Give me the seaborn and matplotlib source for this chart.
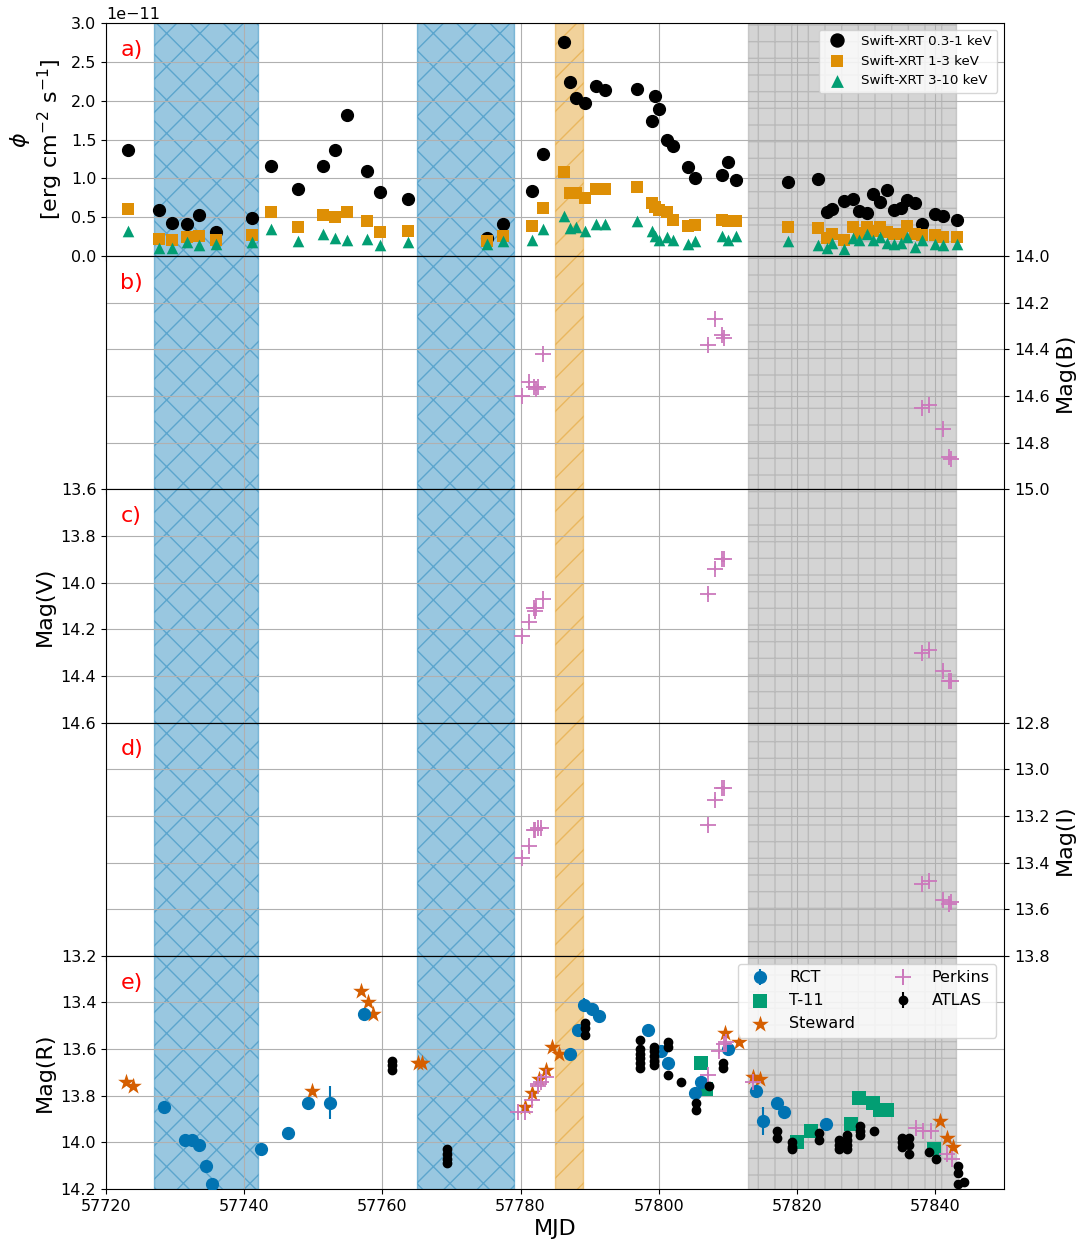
import numpy as np
import pandas as pd
import matplotlib
matplotlib.use('Agg')
import matplotlib.pyplot as plt
import seaborn as sns

# ---------------- data ----------------
xrt_mjd = [57723.2, 57727.6, 57729.5, 57731.7, 57733.5, 57735.9, 57741.2, 57743.9, 57747.8, 57751.4,
           57753.2, 57754.9, 57757.8, 57759.7, 57763.7, 57775.2, 57777.5, 57781.7, 57783.3, 57786.3,
           57787.2, 57788.0, 57789.4, 57791.0, 57792.2, 57796.9, 57799.0, 57799.5, 57800.1, 57801.2,
           57802.1, 57804.2, 57805.3, 57809.2, 57810.1, 57811.2, 57818.7, 57823.1, 57824.4, 57825.1,
           57826.9, 57828.2, 57829.0, 57830.1, 57831.1, 57832.0, 57833.0, 57834.1, 57835.1, 57836.0,
           57837.1, 57838.1, 57840.0, 57841.1, 57843.2]
xrt_soft = [1.37, 0.59, 0.43, 0.42, 0.53, 0.31, 0.49, 1.16, 0.87, 1.16,
            1.36, 1.81, 1.10, 0.83, 0.74, 0.24, 0.41, 0.84, 1.32, 2.76,
            2.24, 2.03, 1.97, 2.19, 2.14, 2.15, 1.74, 2.06, 1.90, 1.50,
            1.42, 1.15, 1.01, 1.04, 1.21, 0.98, 0.95, 0.99, 0.57, 0.61,
            0.71, 0.73, 0.58, 0.56, 0.80, 0.70, 0.85, 0.59, 0.62, 0.72,
            0.69, 0.41, 0.54, 0.52, 0.47]
xrt_mid = [0.61, 0.22, 0.21, 0.25, 0.26, 0.21, 0.27, 0.57, 0.37, 0.53,
           0.51, 0.57, 0.45, 0.31, 0.33, 0.19, 0.26, 0.39, 0.62, 1.08,
           0.81, 0.81, 0.75, 0.86, 0.86, 0.89, 0.68, 0.63, 0.60, 0.57,
           0.47, 0.39, 0.40, 0.47, 0.45, 0.45, 0.38, 0.36, 0.23, 0.28,
           0.21, 0.38, 0.30, 0.37, 0.33, 0.38, 0.31, 0.29, 0.28, 0.39,
           0.29, 0.27, 0.27, 0.25, 0.25]
xrt_hard = [0.33, 0.10, 0.11, 0.18, 0.15, 0.16, 0.18, 0.35, 0.20, 0.29,
            0.23, 0.21, 0.22, 0.14, 0.18, 0.16, 0.20, 0.21, 0.35, 0.52,
            0.36, 0.38, 0.33, 0.41, 0.42, 0.45, 0.33, 0.26, 0.21, 0.25,
            0.21, 0.16, 0.20, 0.26, 0.21, 0.26, 0.20, 0.15, 0.11, 0.17,
            0.09, 0.23, 0.21, 0.28, 0.21, 0.25, 0.17, 0.16, 0.17, 0.25,
            0.12, 0.21, 0.16, 0.14, 0.16]
xrt_soft_err = [0.05] * len(xrt_soft)

perk_b_mjd = [57780.2, 57781.3, 57782.0, 57782.2, 57782.5, 57783.2, 57807.2, 57808.2, 57809.2, 57809.4,
              57838.1, 57839.2, 57841.1, 57842.1, 57842.3]
perk_b_mag = [14.60, 14.54, 14.56, 14.57, 14.56, 14.42, 14.38, 14.27, 14.34, 14.35,
              14.65, 14.64, 14.74, 14.86, 14.87]
perk_v_mjd = [57780.2, 57781.3, 57782.0, 57782.1, 57782.3, 57783.2, 57807.2, 57808.2, 57809.2, 57809.5,
              57838.1, 57839.2, 57841.1, 57842.1, 57842.3]
perk_v_mag = [14.23, 14.17, 14.11, 14.12, 14.11, 14.07, 14.05, 13.94, 13.90, 13.90,
              14.30, 14.29, 14.38, 14.42, 14.42]
perk_i_mjd = [57780.2, 57781.3, 57782.0, 57782.1, 57782.5, 57782.9, 57807.2, 57808.2, 57809.2, 57809.5,
              57838.1, 57839.2, 57841.1, 57842.1, 57842.3]
perk_i_mag = [13.38, 13.33, 13.26, 13.26, 13.25, 13.25, 13.24, 13.13, 13.08, 13.08,
              13.49, 13.48, 13.56, 13.58, 13.57]
perk_r_mjd = [57779.6, 57780.7, 57781.7, 57782.5, 57782.6, 57783.0, 57783.7, 57807.2, 57808.7, 57809.4,
              57809.7, 57813.6, 57837.2, 57838.2, 57839.4, 57841.8, 57842.5]
perk_r_mag = [13.87, 13.87, 13.82, 13.75, 13.76, 13.74, 13.72, 13.71, 13.61, 13.58,
              13.57, 13.74, 13.94, 13.95, 13.95, 14.05, 14.07]

rct_mjd = [57728.4, 57731.5, 57732.4, 57733.4, 57734.4, 57735.4, 57742.4, 57746.3, 57749.3, 57752.4,
           57757.4, 57787.2, 57788.3, 57789.2, 57790.3, 57791.3, 57798.4, 57800.3, 57801.3, 57805.2,
           57806.1, 57810.1, 57814.1, 57815.1, 57817.1, 57818.2, 57824.2]
rct_mag = [13.85, 13.99, 13.99, 14.01, 14.10, 14.18, 14.03, 13.96, 13.83, 13.83,
           13.45, 13.62, 13.52, 13.41, 13.43, 13.46, 13.52, 13.61, 13.66, 13.79,
           13.74, 13.60, 13.78, 13.91, 13.83, 13.87, 13.92]
rct_err = [0.01, 0.01, 0.01, 0.01, 0.01, 0.01, 0.01, 0.01, 0.01, 0.07,
           0.01, 0.01, 0.01, 0.03, 0.01, 0.01, 0.01, 0.01, 0.01, 0.01,
           0.01, 0.01, 0.01, 0.06, 0.02, 0.01, 0.01]

t11_mjd = [57806.1, 57806.9, 57820.0, 57822.0, 57827.9, 57829.0, 57831.1, 57832.0, 57833.0, 57839.9]
t11_mag = [13.66, 13.77, 14.00, 13.95, 13.92, 13.81, 13.83, 13.86, 13.86, 14.03]

stw_mjd = [57722.9, 57723.9, 57749.8, 57756.9, 57757.9, 57758.7, 57765.1, 57765.8, 57780.7, 57781.7,
           57782.7, 57783.7, 57784.6, 57785.6, 57809.6, 57811.6, 57813.7, 57814.7, 57840.7, 57841.7,
           57842.6]
stw_mag = [13.74, 13.76, 13.78, 13.35, 13.40, 13.45, 13.66, 13.66, 13.85, 13.79,
           13.73, 13.69, 13.59, 13.62, 13.53, 13.57, 13.72, 13.73, 13.91, 13.98,
           14.02]

atlas_mjd = [57761.4, 57761.4, 57761.4, 57769.4, 57769.4, 57769.4, 57769.4,
             57789.4, 57789.4, 57789.4, 57797.3, 57797.3, 57797.3, 57797.3, 57797.3, 57797.3,
             57799.3, 57799.3, 57799.3, 57799.3, 57799.3, 57801.3, 57801.3, 57801.3,
             57803.3, 57805.4, 57805.4, 57807.3, 57809.3, 57809.3,
             57817.2, 57817.2, 57819.3, 57819.3, 57819.3, 57823.2, 57823.2,
             57826.1, 57826.1, 57826.1, 57827.3, 57827.3, 57827.3, 57827.3,
             57829.2, 57829.2, 57829.2, 57831.2, 57835.2, 57835.2, 57835.2,
             57836.2, 57836.2, 57836.2, 57839.2, 57840.2, 57843.3, 57843.3, 57843.3, 57844.2]
atlas_mag = [13.65, 13.67, 13.69, 14.03, 14.05, 14.07, 14.09,
             13.49, 13.51, 13.54, 13.56, 13.60, 13.62, 13.64, 13.66, 13.68,
             13.59, 13.61, 13.63, 13.65, 13.67, 13.57, 13.59, 13.71,
             13.74, 13.83, 13.86, 13.76, 13.66, 13.68,
             13.95, 13.98, 14.00, 14.02, 14.03, 13.96, 13.99,
             13.99, 14.01, 14.03, 13.97, 13.99, 14.01, 14.03,
             13.93, 13.95, 13.97, 13.95, 13.98, 14.00, 14.02,
             13.98, 14.01, 14.05, 14.04, 14.07, 14.10, 14.13, 14.18, 14.17]

span_start = [57727, 57765, 57785, 57813]
span_end = [57742, 57779, 57789, 57843]
span_hatch = ['x', 'x', '/', '+']

x_ticks = [57720, 57740, 57760, 57780, 57800, 57820, 57840]

# ---------------- style ----------------
sns.set_palette('colorblind')
pal = sns.color_palette('colorblind')
C_BLUE, C_ORANGE, C_GREEN, C_RED, C_PINK, C_GRAY = pal[0], pal[1], pal[2], pal[3], pal[4], pal[7]
span_color = [C_BLUE, C_BLUE, C_ORANGE, C_GRAY]

plt.rcParams['font.family'] = ['DejaVu Sans']
plt.rcParams['xtick.labelsize'] = 11.5
plt.rcParams['ytick.labelsize'] = 11.5

fig, axes = plt.subplots(5, 1, figsize=(10.81, 12.47), dpi=100, sharex=True)
fig.subplots_adjust(left=0.0981, right=0.9288, top=0.98156, bottom=0.04651, hspace=0)

for ax in axes:
    for x0, x1, c, h in zip(span_start, span_end, span_color, span_hatch):
        ax.axvspan(x0, x1, facecolor=c, edgecolor=c, alpha=0.4, hatch=h, lw=1)
    ax.grid(True)
    ax.set_xlim(57720, 57850)
    ax.set_xticks(x_ticks)

labels = ['a)', 'b)', 'c)', 'd)', 'e)']
for ax, lab in zip(axes, labels):
    ax.text(0.016, 0.885, lab, color='red', fontsize=16, transform=ax.transAxes, va='center')

# ---- panel a ----
ax = axes[0]
xrt = pd.DataFrame({'MJD': xrt_mjd,
                    'soft': np.array(xrt_soft) * 1e-11,
                    'mid': np.array(xrt_mid) * 1e-11,
                    'hard': np.array(xrt_hard) * 1e-11})
h_soft = ax.errorbar(xrt['MJD'], xrt['soft'], yerr=np.array(xrt_soft_err) * 1e-11, fmt='o',
                     color='black', ms=8.5, label='Swift-XRT 0.3-1 keV', zorder=3)
sns.scatterplot(data=xrt, x='MJD', y='mid', marker='s', color=C_ORANGE, s=70, linewidth=0,
                ax=ax, label='Swift-XRT 1-3 keV', zorder=4)
sns.scatterplot(data=xrt, x='MJD', y='hard', marker='^', color=C_GREEN, s=70, linewidth=0,
                ax=ax, label='Swift-XRT 3-10 keV', zorder=5)
ax.set_ylim(0, 3.0e-11)
ax.set_yticks(np.array([0.0, 0.5, 1.0, 1.5, 2.0, 2.5, 3.0]) * 1e-11)
ax.set_ylabel('$\\phi$\n[erg cm$^{-2}$ s$^{-1}$]', fontsize=16)
ax.set_xlabel('')
hs, ls = ax.get_legend_handles_labels()
order = ['Swift-XRT 0.3-1 keV', 'Swift-XRT 1-3 keV', 'Swift-XRT 3-10 keV']
hd = dict(zip(ls, hs))
ax.legend([hd[k] for k in order], order, loc='upper right', fontsize=9.6, markerscale=1.1)


def perkins(ax, mjd, mag):
    ax.errorbar(mjd, mag, yerr=0.01, fmt='+', color=C_PINK, ms=11, mew=1.3, elinewidth=1.3, zorder=4)


# ---- panel b ----
ax = axes[1]
perkins(ax, perk_b_mjd, perk_b_mag)
ax.set_ylim(15.0, 14.0)
ax.set_yticks([14.0, 14.2, 14.4, 14.6, 14.8, 15.0])
ax.yaxis.tick_right()
ax.yaxis.set_label_position('right')
ax.set_ylabel('Mag(B)', fontsize=16)

# ---- panel c ----
ax = axes[2]
perkins(ax, perk_v_mjd, perk_v_mag)
ax.set_ylim(14.6, 13.6)
ax.set_yticks([13.6, 13.8, 14.0, 14.2, 14.4, 14.6])
ax.set_ylabel('Mag(V)', fontsize=16)

# ---- panel d ----
ax = axes[3]
perkins(ax, perk_i_mjd, perk_i_mag)
ax.set_ylim(13.8, 12.8)
ax.set_yticks([12.8, 13.0, 13.2, 13.4, 13.6, 13.8])
ax.yaxis.tick_right()
ax.yaxis.set_label_position('right')
ax.set_ylabel('Mag(I)', fontsize=16)

# ---- panel e ----
ax = axes[4]
h_rct = ax.errorbar(rct_mjd, rct_mag, yerr=rct_err, fmt='o', color=C_BLUE, ms=8.5, zorder=3, label='RCT')
opt = pd.DataFrame({'MJD': t11_mjd, 'mag': t11_mag})
sns.scatterplot(data=opt, x='MJD', y='mag', marker='s', color=C_GREEN, s=100, linewidth=0,
                ax=ax, label='T-11', zorder=3)
stw = pd.DataFrame({'MJD': stw_mjd, 'mag': stw_mag})
sns.scatterplot(data=stw, x='MJD', y='mag', marker='*', color=C_RED, s=160, linewidth=0,
                ax=ax, label='Steward', zorder=3)
h_perk = ax.errorbar(perk_r_mjd, perk_r_mag, yerr=0.01, fmt='+', color=C_PINK, ms=11, mew=1.3,
                     elinewidth=1.3, zorder=4, label='Perkins')
h_atlas = ax.errorbar(atlas_mjd, atlas_mag, yerr=0.01, fmt='o', color='black', ms=6, zorder=5, label='ATLAS')
ax.set_ylim(14.2, 13.2)
ax.set_yticks([13.2, 13.4, 13.6, 13.8, 14.0, 14.2])
ax.set_ylabel('Mag(R)', fontsize=16)
ax.set_xlabel('MJD', fontsize=16)
hs, ls = ax.get_legend_handles_labels()
hd = dict(zip(ls, hs))
order = ['RCT', 'T-11', 'Steward', 'Perkins', 'ATLAS']
ax.legend([hd[k] for k in order], order, loc='upper right', fontsize=11.5, ncol=2)

fig.savefig('out.png', dpi=100)
